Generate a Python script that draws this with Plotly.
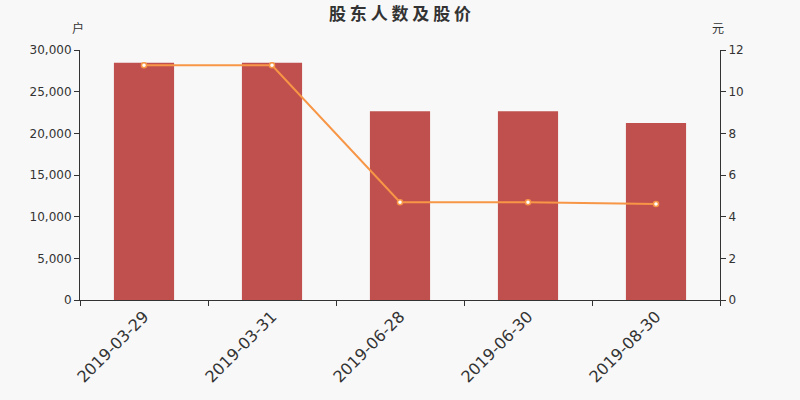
import plotly.graph_objects as go

dates = ["2019-03-29", "2019-03-31", "2019-06-28", "2019-06-30", "2019-08-30"]
holders = [28470, 28470, 22640, 22640, 21240]
prices = [11.27, 11.27, 4.69, 4.69, 4.61]

fig = go.Figure()
fig.add_trace(go.Bar(
    x=dates, y=holders, name="股东人数",
    marker=dict(color="#c0504d", line=dict(width=0)),
    width=0.47, yaxis="y",
))
fig.add_trace(go.Scatter(
    x=dates, y=prices, name="股价", mode="lines+markers",
    line=dict(color="#f79646", width=2),
    marker=dict(size=5, color="white", line=dict(color="#f79646", width=1.5)),
    yaxis="y2",
))

axis_font = dict(family="DejaVu Sans", size=12, color="#333333")
cjk = dict(family="Noto Sans CJK SC", size=12, color="#333333")
fig.update_layout(
    width=800, height=400,
    paper_bgcolor="#f8f8f8", plot_bgcolor="#f8f8f8",
    margin=dict(l=80, r=80, t=50, b=100),
    showlegend=False,
    title=dict(text="股 东 人 数 及 股 价", x=0.5, xanchor="center", y=0.965, yanchor="middle",
               font=dict(family="Noto Sans CJK SC", size=17, color="#333333", weight=600)),
    xaxis=dict(
        type="category", tickson="boundaries", ticks="outside", ticklen=5,
        tickcolor="#333333", showline=True, linecolor="#333333", linewidth=1,
        tickangle=-45, tickfont=dict(family="DejaVu Sans", size=16, color="#333333"),
        showgrid=False, zeroline=False,
    ),
    yaxis=dict(
        range=[0, 30000], dtick=5000, tickformat=",d", ticks="outside", ticklen=5,
        tickcolor="#333333", showline=True, linecolor="#333333", linewidth=1,
        showgrid=False, zeroline=False, tickfont=axis_font,
    ),
    yaxis2=dict(
        range=[0, 12], dtick=2, overlaying="y", side="right", ticks="outside", ticklen=5,
        tickcolor="#333333", showline=True, linecolor="#333333", linewidth=1,
        showgrid=False, zeroline=False, tickfont=axis_font,
    ),
    annotations=[
        dict(text="户", x=-0.003, y=1.09, xref="paper", yref="paper", showarrow=False,
             xanchor="center", yanchor="middle", font=cjk),
        dict(text="元", x=0.997, y=1.09, xref="paper", yref="paper", showarrow=False,
             xanchor="center", yanchor="middle", font=cjk),
    ],
)

fig.write_html(
    "out.html",
    config={"displayModeBar": False},
    post_script="document.body.style.margin='0';document.body.style.background='#f8f8f8';",
)
